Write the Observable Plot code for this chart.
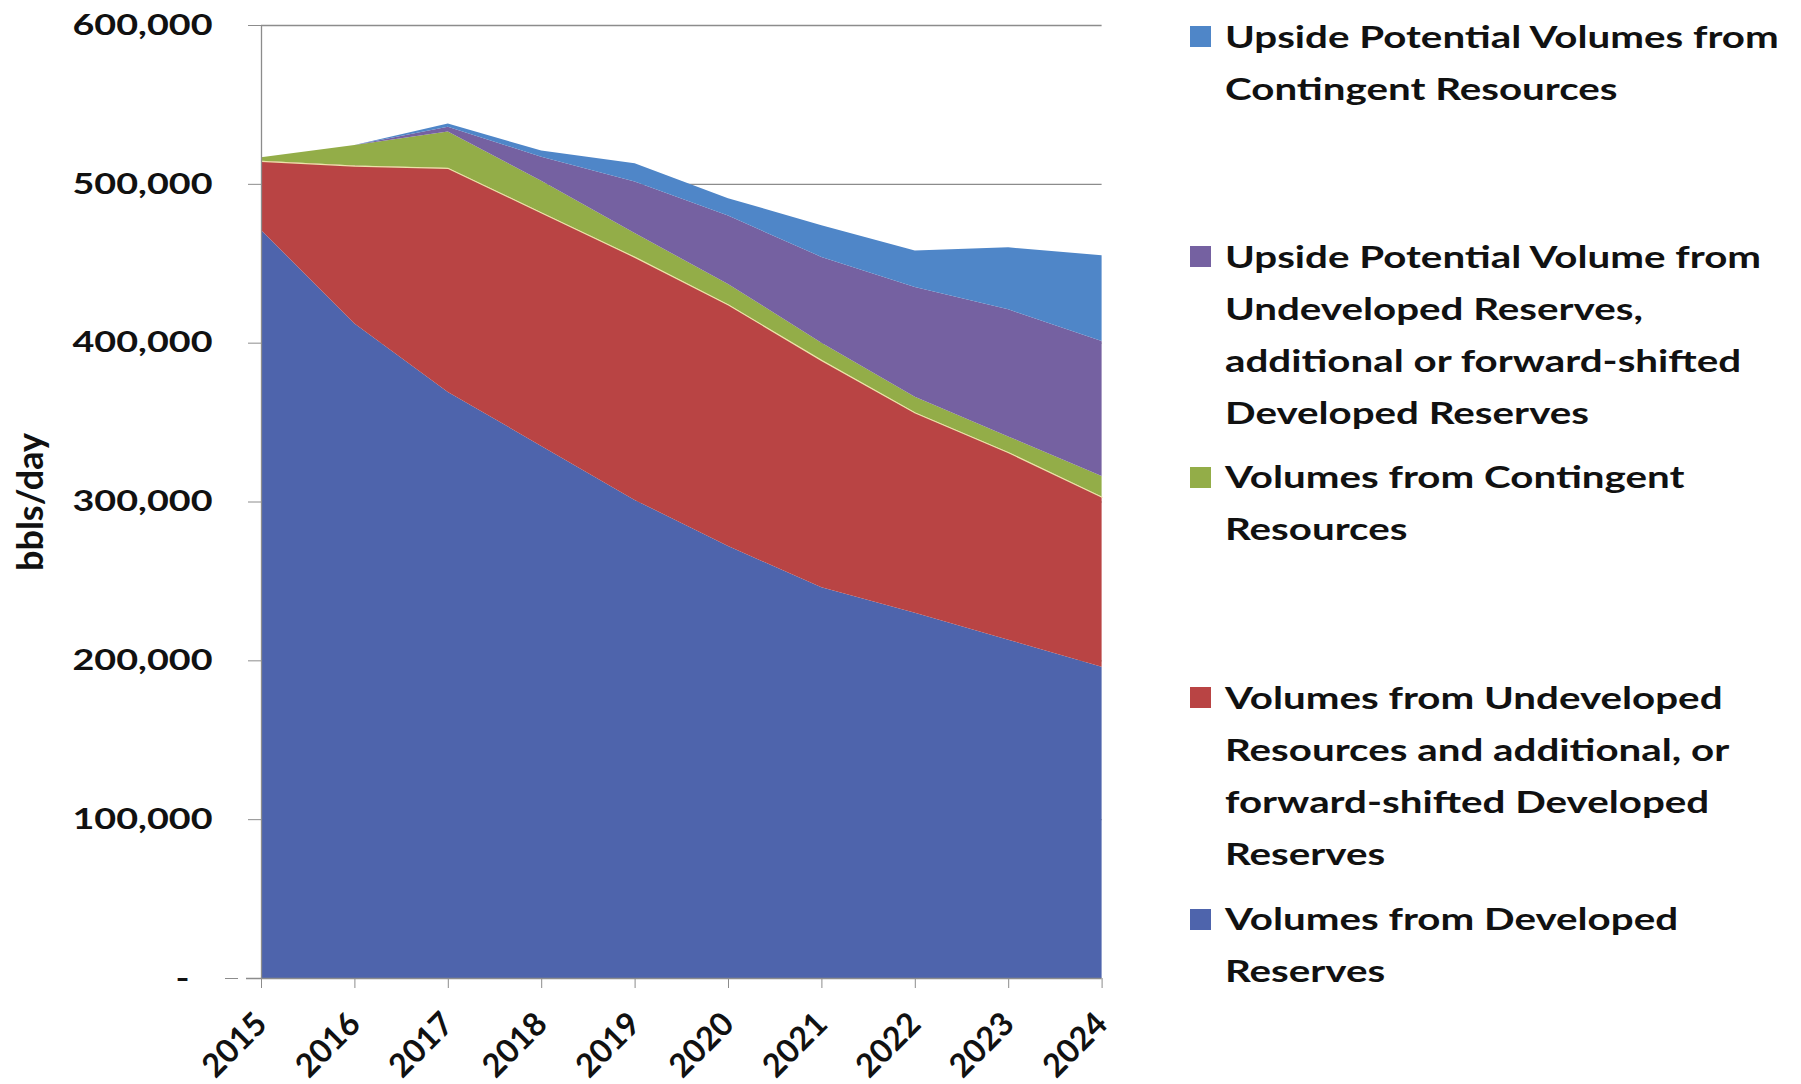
<!DOCTYPE html>
<html>
<head>
<meta charset="utf-8">
<script src="https://cdn.jsdelivr.net/npm/d3@7"></script>
<script src="https://cdn.jsdelivr.net/npm/@observablehq/plot@0.6"></script>
<style>
  html, body { margin: 0; padding: 0; background: #ffffff; }
  #wrap { position: relative; width: 1801px; height: 1084px; font-family: Lato, "Open Sans", sans-serif; }
  #legend { position: absolute; left: 1190px; top: 0; width: 600px; }
  .sw { position: absolute; left: 0; width: 21px; height: 21px; }
  .txt { position: absolute; left: 35px; font-weight: 700; font-size: 31px; line-height: 52.3px; color: #111;
         white-space: nowrap; transform: scaleX(1.3); transform-origin: 0 50%; }
</style>
</head>
<body>
<div id="wrap">
  <div id="chart"></div>
  <div id="legend"></div>
</div>
<script>
// ---- data (bbls/day) ----
const years = [2015, 2016, 2017, 2018, 2019, 2020, 2021, 2022, 2023, 2024];
const developed = [471000, 412000, 369000, 335000, 301000, 272000, 246000, 230000, 213000, 196000];
const undeveloped = [43500, 99500, 141000, 147000, 153000, 152000, 143000, 126000, 118000, 107000];
const contingent = [2300, 13000, 23000, 20000, 15000, 13000, 11000, 10000, 10000, 13000];
const upsideUndeveloped = [0, 0, 3000, 15000, 32500, 43000, 54000, 69000, 80000, 85000];
const upsideContingent = [0, 0, 2000, 4000, 11500, 11000, 20000, 23000, 39000, 54000];
const yTicks = [0, 100000, 200000, 300000, 400000, 500000, 600000];

const seriesNames = [
  "Volumes from Developed Reserves",
  "Volumes from Undeveloped Resources and additional, or forward-shifted Developed Reserves",
  "Volumes from Contingent Resources",
  "Upside Potential Volume from Undeveloped Reserves, additional or forward-shifted Developed Reserves",
  "Upside Potential Volumes from Contingent Resources"
];
const seriesColors = ["#4E64AC", "#B94444", "#93AD48", "#7561A1", "#4F86C8"];
const seriesValues = [developed, undeveloped, contingent, upsideUndeveloped, upsideContingent];

// legend lines (top to bottom as in the reference)
const legendLines = [
  ["Upside Potential Volumes from", "Contingent Resources"],
  ["Upside Potential Volume from", "Undeveloped Reserves,", "additional or forward-shifted", "Developed Reserves"],
  ["Volumes from Contingent", "Resources"],
  ["Volumes from Undeveloped", "Resources and additional, or", "forward-shifted Developed", "Reserves"],
  ["Volumes from Developed", "Reserves"]
];
const legendSeriesIndex = [4, 3, 2, 1, 0];
const legendTops = [36.5, 256.5, 477, 697.5, 919];

// ---- long table ----
const table = [];
seriesNames.forEach((s, i) => {
  years.forEach((yr, j) => table.push({year: yr, series: s, value: seriesValues[i][j]}));
});

const chart = Plot.plot({
  width: 1150,
  height: 1084,
  marginLeft: 261,
  marginRight: 48.4,
  marginTop: 25,
  marginBottom: 106,
  style: {background: "transparent", color: "#111", fontFamily: "Lato, 'Open Sans', sans-serif"},
  x: {type: "linear", domain: [2015, 2024]},
  y: {domain: [0, 600000]},
  color: {domain: seriesNames, range: seriesColors},
  marks: [
    Plot.gridY(yTicks.filter(d => d > 0), {stroke: "#8c8c8c", strokeOpacity: 1, strokeWidth: 1.3}),
    Plot.areaY(table, {x: "year", y: "value", z: "series", fill: "series", order: seriesNames, fillOpacity: 1}),
    Plot.lineY(years, {x: d => d, y: (d, j) => developed[j] + undeveloped[j], stroke: "#ece3a8", strokeWidth: 1.2}),
    Plot.ruleX([2015], {stroke: "#8c8c8c", strokeWidth: 1.3}),
    Plot.ruleY([0], {stroke: "#8c8c8c", strokeWidth: 1.3, x1: 2015 - 15/93.4, x2: 2024}),
    Plot.axisY(yTicks.filter(d => d > 0), {
      tickSize: 13, tickPadding: 36, tickFormat: d3.format(","), stroke: "#8c8c8c",
      fontSize: 29, fontWeight: 700, fill: "#111", label: null
    }),
    Plot.axisY([0], {
      tickSize: 13, tickPadding: 36, tickFormat: () => "-", stroke: "#8c8c8c",
      fontSize: 29, fontWeight: 700, fill: "#111", label: null, dx: -23
    }),
    Plot.axisX(years, {
      tickSize: 10, tickPadding: 30, tickFormat: d => String(d), tickRotate: -45, stroke: "#8c8c8c",
      fontSize: 32.5, fontWeight: 700, fill: "#111", label: null
    }),
    Plot.text(["bbls/day"], {frameAnchor: "left", textAnchor: "middle", rotate: -90, dx: -230, fontSize: 36, fontWeight: 700, fill: "#111"})
  ]
});
document.getElementById("chart").appendChild(chart);

// stretch y tick labels horizontally like the reference
chart.querySelectorAll('g[aria-label="y-axis tick label"] text').forEach(t => {
  const tr = t.getAttribute("transform");
  if (tr) {
    t.setAttribute("transform", tr + " scale(1.3,1)");
  } else {
    const x = +t.getAttribute("x") || 0, y = +t.getAttribute("y") || 0;
    t.removeAttribute("x"); t.removeAttribute("y");
    t.setAttribute("transform", `translate(${x},${y}) scale(1.3,1)`);
  }
});

// ---- legend ----
const legend = document.getElementById("legend");
legendLines.forEach((lines, k) => {
  const top = legendTops[k];
  const sw = document.createElement("div");
  sw.className = "sw";
  sw.style.top = (top - 10.5) + "px";
  sw.style.background = seriesColors[legendSeriesIndex[k]];
  legend.appendChild(sw);
  lines.forEach((line, i) => {
    const t = document.createElement("div");
    t.className = "txt";
    t.textContent = line;
    t.style.top = (top - 27 + i * 52.3) + "px";
    legend.appendChild(t);
  });
});
</script>
</body>
</html>
